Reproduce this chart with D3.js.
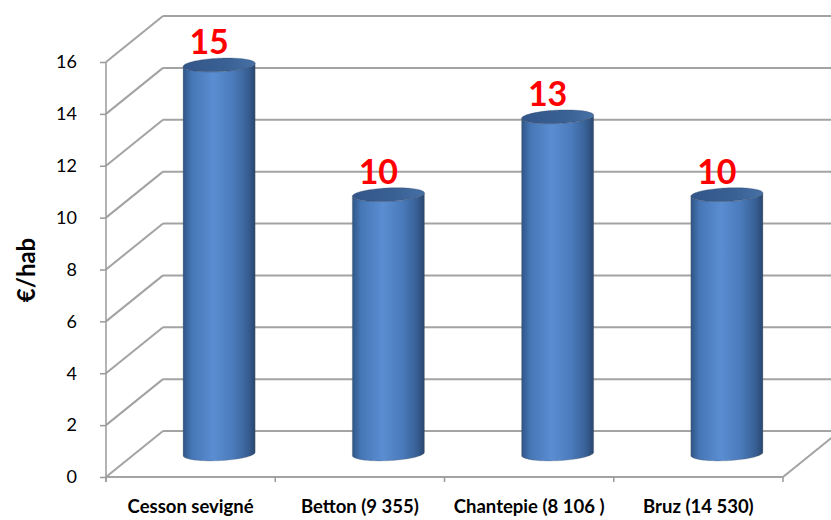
<!DOCTYPE html>
<html>
<head>
<meta charset="utf-8">
<script src="https://cdn.jsdelivr.net/npm/d3@7"></script>
<style>
  html, body { margin: 0; padding: 0; background: #ffffff; }
  svg { display: block; }
</style>
</head>
<body>
<svg id="chart" width="831" height="520"></svg>
<script>
// Contribution per inhabitant, by commune
const categories = ["Cesson sevigné", "Betton (9 355)", "Chantepie (8 106 )", "Bruz (14 530)"];
const values = [15, 10, 13, 10];
const yTicks = [0, 2, 4, 6, 8, 10, 12, 14, 16];
const yTitle = "€/hab";

const W = 831, H = 520;
const svg = d3.select("#chart");

// Front plane of the 3D box and the oblique depth offset
const x = d3.scaleBand().domain(categories).range([106, 783]).padding(0);
const y = d3.scaleLinear().domain([0, 16]).range([477, 62]);
const depth = { dx: 57, dy: -46 };

const grid = "#a3a3a3";
const axisCol = "#9a9a9a";

// Gradients for the cylinders
const defs = svg.append("defs");
const bodyGrad = defs.append("linearGradient").attr("id", "cylBody")
  .attr("x1", "0%").attr("x2", "100%").attr("y1", "0%").attr("y2", "0%");
[[0, "#2f5586"], [0.12, "#4676b5"], [0.42, "#5a8dd2"], [0.7, "#4a7aba"], [0.9, "#375f94"], [1, "#2a466e"]]
  .forEach(([o, c]) => bodyGrad.append("stop").attr("offset", o).attr("stop-color", c));
const capGrad = defs.append("linearGradient").attr("id", "cylTop")
  .attr("x1", "0%").attr("x2", "100%").attr("y1", "0%").attr("y2", "0%");
[[0, "#33568a"], [0.6, "#3a6194"], [1, "#4670a5"]]
  .forEach(([o, c]) => capGrad.append("stop").attr("offset", o).attr("stop-color", c));

const x0 = x.range()[0], x1 = x.range()[1];
const y0 = y(0);

// Back wall gridlines and the left side wall diagonals
const gGrid = svg.append("g");
yTicks.forEach(t => {
  const yf = y(t);
  gGrid.append("line")
    .attr("x1", x0 + depth.dx).attr("x2", W + 20)
    .attr("y1", yf + depth.dy).attr("y2", yf + depth.dy)
    .attr("stroke", grid).attr("stroke-width", 2);
  gGrid.append("line")
    .attr("x1", x0).attr("y1", yf)
    .attr("x2", x0 + depth.dx).attr("y2", yf + depth.dy)
    .attr("stroke", grid).attr("stroke-width", 2);
});

// Floor: front edge and right edge
gGrid.append("line")
  .attr("x1", x0).attr("x2", x1).attr("y1", y0).attr("y2", y0)
  .attr("stroke", grid).attr("stroke-width", 2);
gGrid.append("line")
  .attr("x1", x1).attr("y1", y0)
  .attr("x2", x1 + depth.dx).attr("y2", y0 + depth.dy)
  .attr("stroke", grid).attr("stroke-width", 2);

// Front value axis
svg.append("line")
  .attr("x1", x0).attr("x2", x0).attr("y1", y(16)).attr("y2", y0 + 5)
  .attr("stroke", axisCol).attr("stroke-width", 1.5);

const yAxis = svg.append("g")
  .attr("transform", `translate(${x0},0)`)
  .call(d3.axisLeft(y).tickValues(yTicks).tickSize(6).tickPadding(23).tickFormat(d3.format("d")));
yAxis.select(".domain").remove();
yAxis.selectAll(".tick line").attr("stroke", axisCol).attr("stroke-width", 1.5);
yAxis.selectAll(".tick text")
  .attr("font-family", "Lato, 'Open Sans', sans-serif")
  .attr("font-size", 18).attr("fill", "#000");

// Category boundary ticks
const bounds = categories.map(c => x(c)).concat([x1]);
svg.append("g").selectAll("line").data(bounds).join("line")
  .attr("x1", d => d).attr("x2", d => d)
  .attr("y1", y0).attr("y2", y0 + 5)
  .attr("stroke", axisCol).attr("stroke-width", 1.5);

// Category labels
const xAxis = svg.append("g")
  .attr("transform", `translate(0,${y0})`)
  .call(d3.axisBottom(x).tickSize(0).tickPadding(23));
xAxis.select(".domain").remove();
xAxis.selectAll(".tick text")
  .attr("font-family", "Lato, 'Open Sans', sans-serif")
  .attr("font-weight", "bold").attr("font-size", 18.5).attr("fill", "#000");

// Axis title
svg.append("text")
  .attr("transform", "translate(35,270) rotate(-90)")
  .attr("text-anchor", "middle")
  .attr("font-family", "Lato, 'Open Sans', sans-serif")
  .attr("font-weight", "bold").attr("font-size", 24)
  .attr("fill", "#000")
  .text(yTitle);

// Cylinders, set at mid-depth of each slot
const len = Math.hypot(depth.dx, depth.dy);
const ux = depth.dx / len, uy = depth.dy / len;
const a = 35, b = 11;
const t0 = Math.atan2(b * ux, a);
const pt = (cx, cy, t) => [cx + a * Math.cos(t) + b * ux * Math.sin(t), cy + b * uy * Math.sin(t)];

function arc(cx, cy, tStart, tEnd, n) {
  const pts = [];
  for (let i = 0; i <= n; i++) pts.push(pt(cx, cy, tStart + (tEnd - tStart) * i / n));
  return pts;
}

const data = categories.map((c, i) => ({ c, v: values[i] }));
const gBars = svg.append("g");

data.forEach(d => {
  const cx = x(d.c) + x.bandwidth() / 2 + depth.dx / 2;
  const yb = y(0) + depth.dy / 2;
  const yt = y(d.v) + depth.dy / 2;

  const bottomArc = arc(cx, yb, t0 + Math.PI, t0 + 2 * Math.PI, 48);
  const topArc = arc(cx, yt, t0, t0 - Math.PI, 48);
  const outline = bottomArc.concat(topArc);

  gBars.append("path")
    .attr("d", d3.line()(outline) + "Z")
    .attr("fill", "url(#cylBody)")
    .attr("stroke", "rgba(90,90,90,0.25)").attr("stroke-width", 1);

  gBars.append("path")
    .attr("d", d3.line()(arc(cx, yt, 0, 2 * Math.PI, 96)) + "Z")
    .attr("fill", "url(#cylTop)")
    .attr("stroke", "rgba(40,60,90,0.35)").attr("stroke-width", 0.8);

  gBars.append("text")
    .attr("x", cx - 10).attr("y", yt - 11)
    .attr("text-anchor", "middle")
    .attr("font-family", "Lato, 'Open Sans', sans-serif")
    .attr("font-weight", "bold").attr("font-size", 34)
    .attr("fill", "#ff0000")
    .text(d3.format("d")(d.v));
});
</script>
</body>
</html>
